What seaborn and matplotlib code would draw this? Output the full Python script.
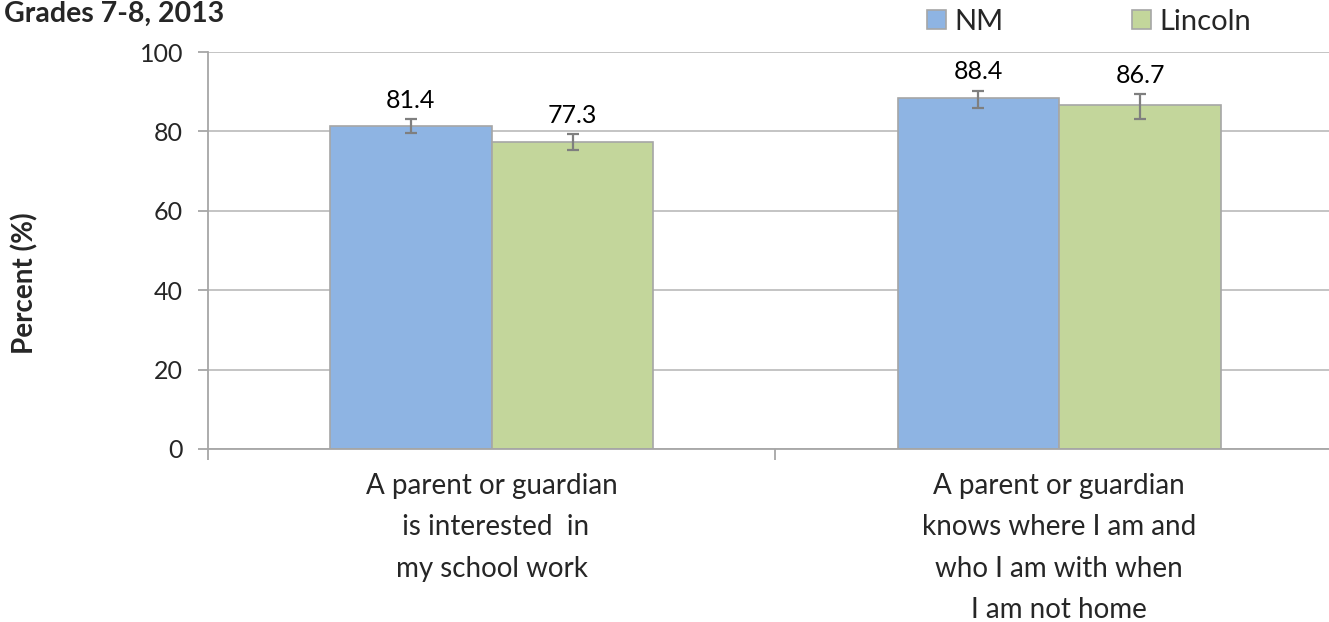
import seaborn as sns
import pandas as pd
import matplotlib.pyplot as plt
from matplotlib.ticker import FixedLocator

# Dati
categories = ["A parent or guardian\n is interested  in\nmy school work",
              "A parent or guardian\nknows where I am and\nwho I am with when\nI am not home"]
groups = ["NM", "Lincoln"]
nm_values = [81.4, 88.4]
lincoln_values = [77.3, 86.7]
nm_low = [79.5, 85.9]
nm_high = [83.0, 90.3]
lincoln_low = [75.2, 83.1]
lincoln_high = [79.3, 89.5]

colors = ["#8EB4E3", "#C3D69B"]

df = pd.DataFrame({
    "Category": categories * 2,
    "Group": [groups[0]] * 2 + [groups[1]] * 2,
    "Percent": nm_values + lincoln_values,
})

sns.set_theme(style="white")
plt.rcParams['font.family'] = ['Lato', 'DejaVu Sans']

fig = plt.figure(figsize=(13.29, 6.22), dpi=100)
ax = fig.add_axes([208 / 1329, 1 - 449 / 622, (1343 - 208) / 1329, (449 - 52) / 622])

sns.barplot(data=df, x="Category", y="Percent", hue="Group", order=categories,
            hue_order=groups, palette=colors, width=0.57, edgecolor="#A6A6A6",
            linewidth=1.2, errorbar=None, ax=ax, saturation=1)

# barre d'errore e etichette dei valori
vals = [nm_values, lincoln_values]
lows = [nm_low, lincoln_low]
highs = [nm_high, lincoln_high]
bar_containers = list(ax.containers)
for gi, cont in enumerate(bar_containers):
    for bi, bar in enumerate(cont):
        xc = bar.get_x() + bar.get_width() / 2
        v = vals[gi][bi]
        ax.errorbar(xc, v, yerr=[[v - lows[gi][bi]], [highs[gi][bi] - v]],
                    fmt="none", ecolor="#7F7F7F", elinewidth=1.6, capsize=4.5,
                    capthick=1.6, zorder=5)
        ax.text(xc, highs[gi][bi] + 2.8, f"{v:.1f}", ha="center", va="baseline",
                fontsize=18, color="black")

ax.set_ylim(0, 100)
ax.set_xlim(-0.5, 1.5)
ax.set_yticks([0, 20, 40, 60, 80, 100])
ax.yaxis.grid(True, color="#BFBFBF", linewidth=1.3)
ax.set_axisbelow(True)
for s in ["top", "right"]:
    ax.spines[s].set_visible(False)
ax.spines["left"].set_color("#A6A6A6")
ax.spines["bottom"].set_color("#A6A6A6")
ax.spines["left"].set_linewidth(1.3)
ax.spines["bottom"].set_linewidth(1.3)

ax.tick_params(axis="y", left=True, length=7, width=1.3, color="#A6A6A6",
               labelsize=18, pad=11)
ax.tick_params(axis="x", bottom=False, length=6, labelsize=20, pad=11)
ax.xaxis.set_minor_locator(FixedLocator([-0.5, 0.5, 1.5]))
ax.tick_params(axis="x", which="minor", bottom=True, length=8, color="#A6A6A6", width=1.3)
ax.set_xticks(range(len(categories)))
ax.set_xticklabels(categories, linespacing=1.74)

ax.set_xlabel("")
ax.set_ylabel("")
fig.text(25 / 1329, 1 - 283 / 622, "Percent (%)", fontsize=20, fontweight="bold",
         rotation=90, ha="center", va="center")

fig.text(4 / 1329, 1 - 22 / 622, "Grades 7-8, 2013", fontsize=20.5, fontweight="bold",
         ha="left", va="baseline")

ax.legend(loc="center left", bbox_to_anchor=(927 / 1329, 1 - 22 / 622),
          bbox_transform=fig.transFigure, ncol=2, frameon=False, fontsize=21,
          handlelength=0.65, handleheight=0.65, columnspacing=4.4, handletextpad=0.3,
          borderpad=0, borderaxespad=0)

plt.savefig("out.png", dpi=100)
